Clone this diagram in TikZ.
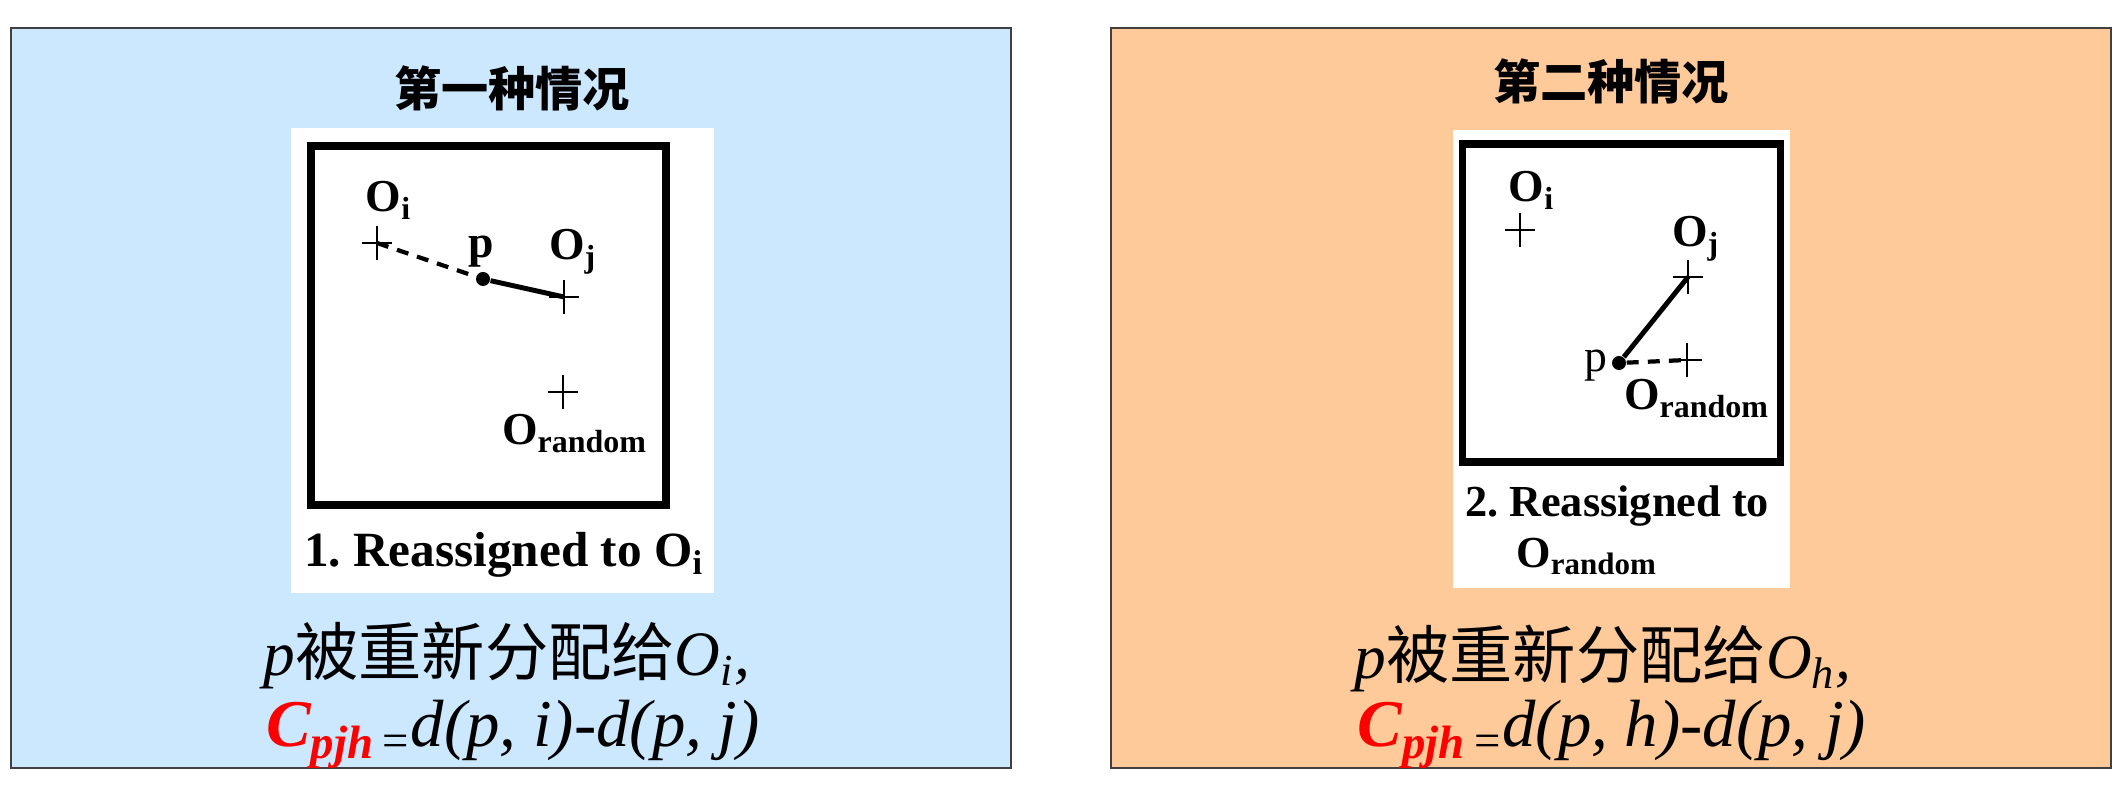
\documentclass[tikz,border=0pt]{standalone}
\usepackage{fontspec}
\setmainfont{Liberation Serif}
\newfontfamily\cjk{Noto Sans CJK SC}
\definecolor{paneblue}{RGB}{204,232,255}
\definecolor{panepeach}{RGB}{254,202,153}
\frenchspacing
\begin{document}
\begin{tikzpicture}[
    x=0.01cm, y=-0.01cm,
    panel/.style={draw=black!75, line width=0.6pt},
    frame/.style={draw=black, line width=2pt},
    title/.style={inner sep=0, font=\fontsize{13.4}{16}\selectfont\cjk\bfseries},
    lbl/.style={inner sep=0, anchor=base, font=\fontsize{13}{15}\selectfont\bfseries},
    caption/.style={inner sep=0, anchor=base, font=\fontsize{14}{16}\selectfont\bfseries},
    formula/.style={inner sep=0, anchor=base, font=\fontsize{18}{20}\selectfont},
    dot/.style={circle, fill=black, inner sep=0, minimum size=0.14cm},
    dashline/.style={line width=1.2pt, dash pattern=on 3.4pt off 2.6pt},
    solidline/.style={line width=1.4pt},
    plusmark/.pic={\draw[line width=0.6pt] (-15,0) -- (15,0) (0,-17) -- (0,17);}
    ]

\useasboundingbox (0,0) rectangle (2125,786);

% Two coloured panels
\draw[panel, fill=paneblue]  (11,28)   rectangle (1011,768);
\draw[panel, fill=panepeach] (1111,28) rectangle (2111,768);

% White sheets with the black frames
\fill[white] (291,128)  rectangle (714,593);
\fill[white] (1453,130) rectangle (1790,588);
\draw[frame] (311,146)  rectangle (666,505);
\draw[frame] (1462,144) rectangle (1780,462);

% Titles
\node[title] (title1) at (512,88)  {第一种情况};
\node[title] (title2) at (1611,81) {第二种情况};

% Case 1: points (fixed coordinates)
\coordinate (oi1) at (377,243);
\coordinate (oj1) at (564,297);
\coordinate (or1) at (563,392);
\node[dot] (p1) at (483,279) {};
\pic at (oi1) {plusmark};
\pic at (oj1) {plusmark};
\pic at (or1) {plusmark};

% Case 1: distances
\draw[dashline]  (oi1) -- (p1);
\draw[solidline] (p1)  -- (oj1);

% Case 1: labels
\node[lbl] (oi1lbl) at (389,212) {O\textsubscript{i}};
\node[lbl] (p1lbl)  at (481,258) {p};
\node[lbl] (oj1lbl) at (573,260) {O\textsubscript{j}};
\node[lbl] (or1lbl) at (575,445) {O\textsubscript{random}};
\node[caption] (cap1) at (504,567) {1. Reassigned to O\textsubscript{i}};

% Case 2: points (fixed coordinates)
\coordinate (oi2) at (1520,230);
\coordinate (oj2) at (1688,277);
\coordinate (or2) at (1687,360);
\node[dot] (p2) at (1619,363) {};
\pic at (oi2) {plusmark};
\pic at (oj2) {plusmark};
\pic at (or2) {plusmark};

% Case 2: distances
\draw[solidline] (p2) -- (oj2);
\draw[dashline]  (p2) -- (or2);

% Case 2: labels
\node[lbl] (oi2lbl) at (1532,202) {O\textsubscript{i}};
\node[lbl] (oj2lbl) at (1696,247) {O\textsubscript{j}};
\node[lbl, font=\fontsize{13}{15}\selectfont] (p2lbl) at (1596,372) {p};
\node[lbl] (or2lbl) at (1697,410) {O\textsubscript{random}};
\node[caption, font=\fontsize{12.6}{15}\selectfont\bfseries] (cap2a) at (1617,517) {2. Reassigned to};
\node[caption, font=\fontsize{12.6}{15}\selectfont\bfseries] (cap2b) at (1587,568) {O\textsubscript{random}};

% Results under each panel
\node[formula] (res1) at (507,676)
  {\textit{p}{\cjk 被重新分配给}\textit{O\textsubscript{i},}};
\node[formula, font=\fontsize{19}{21}\selectfont] (cost1) at (513,747)
  {\textcolor{red}{\bfseries\itshape C\textsubscript{pjh}}\textsubscript{\,=}\textit{d(p, i)-d(p, j)}};
\node[formula] (res2) at (1603,679)
  {\textit{p}{\cjk 被重新分配给}\textit{O\textsubscript{h},}};
\node[formula, font=\fontsize{19}{21}\selectfont] (cost2) at (1612,747)
  {\textcolor{red}{\bfseries\itshape C\textsubscript{pjh}}\textsubscript{\,=}\textit{d(p, h)-d(p, j)}};

\end{tikzpicture}
\end{document}
